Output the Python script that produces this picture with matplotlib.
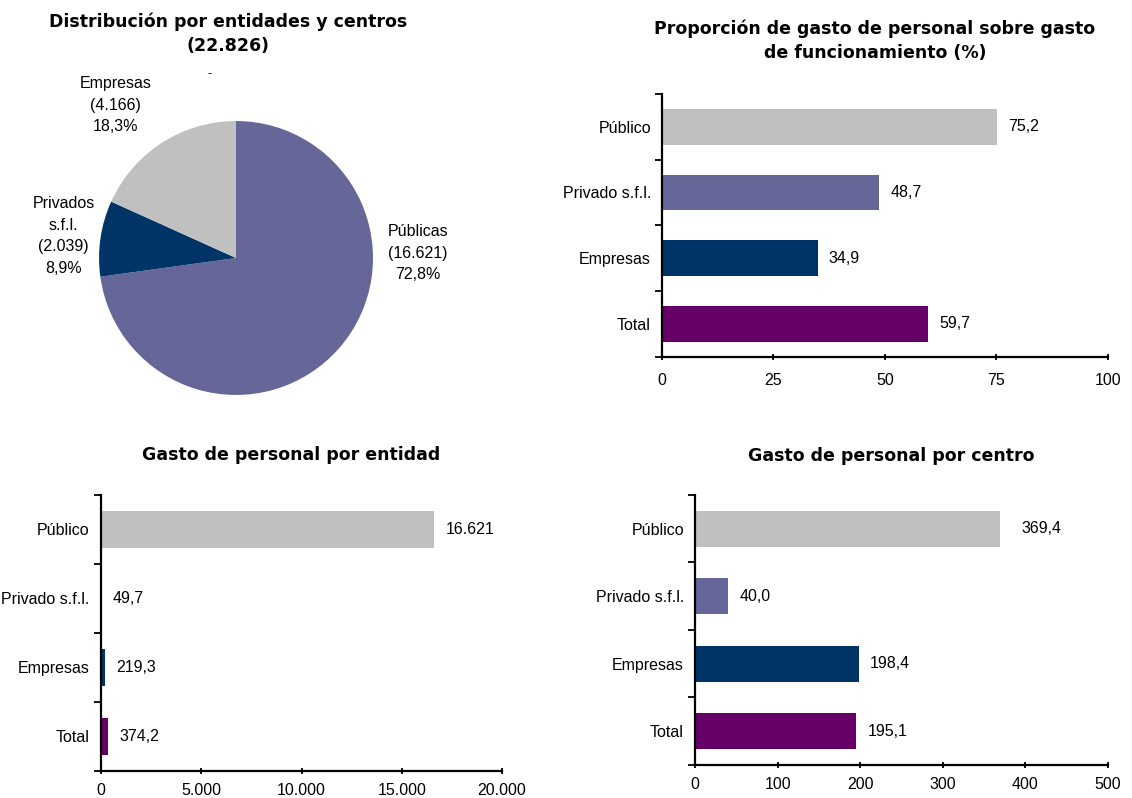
# -*- coding: utf-8 -*-
import matplotlib
matplotlib.use("Agg")

import matplotlib.pyplot as plt
from matplotlib.ticker import FuncFormatter, FixedLocator

plt.rcParams['font.family'] = ['Liberation Sans', 'DejaVu Sans']
plt.rcParams['font.size'] = 11.5

# Distribución por entidades (tarta)
pie_nombres = ["Públicas", "Privados\ns.f.l.", "Empresas"]
pie_valores = [16621, 2039, 4166]
pie_colores = ["#666699", "#003366", "#C0C0C0"]

# Barras: mismas categorías en los tres gráficos
categorias = ["Público", "Privado s.f.l.", "Empresas", "Total"]
colores = ["#C0C0C0", "#666699", "#003366", "#660066"]

proporcion_gasto = [75.2, 48.7, 34.9, 59.7]
gasto_entidad = [16621, 49.7, 219.3, 374.2]
gasto_centro = [369.4, 40.0, 198.4, 195.1]

ticks_proporcion = [0, 25, 50, 75, 100]
ticks_entidad = [0, 5000, 10000, 15000, 20000]
ticks_centro = [0, 100, 200, 300, 400, 500]

# títulos en negrita más ancha
TITULO = dict(family=['DejaVu Sans'], fontsize=12.5, fontweight="bold",
              ha="center", va="center", linespacing=1.45)


def miles(v):
    return f"{int(round(v)):,}".replace(",", ".")


def etiqueta(v):
    # enteros grandes con punto de miles, el resto con una decimal y coma
    if v >= 1000:
        return miles(v)
    return f"{v:.1f}".replace(".", ",")


def barras(ax, valores, ticks, xpad=6, desplaz=(8, 8, 8, 8)):
    n = len(categorias)
    pos = list(range(n))
    ax.barh(pos, valores, height=0.54, color=colores, edgecolor="none")
    ax.set_ylim(n - 0.5, -0.5)
    ax.set_xlim(ticks[0], ticks[-1])
    ax.set_yticks(pos)
    ax.set_yticklabels(categorias)
    ax.yaxis.set_minor_locator(FixedLocator([p - 0.5 for p in range(n + 1)]))
    ax.tick_params(axis="y", which="major", length=0, pad=8)
    ax.tick_params(axis="y", which="minor", length=5, width=1.3, direction="out")
    ax.set_xticks(ticks)
    ax.xaxis.set_major_formatter(FuncFormatter(lambda v, p: miles(v)))
    ax.tick_params(axis="x", length=5, width=1.3, direction="inout", pad=xpad)
    for s in ["top", "right"]:
        ax.spines[s].set_visible(False)
    for s in ["left", "bottom"]:
        ax.spines[s].set_linewidth(1.6)
    for p, v, d in zip(pos, valores, desplaz):
        ax.annotate(etiqueta(v), (v, p), xytext=(d, 0), textcoords="offset points",
                    va="center", ha="left")


fig = plt.figure(figsize=(11.32, 7.98), dpi=100)

# tarta
ax0 = fig.add_axes([0.0875, 0.505, 0.242, 0.3434])
ax0.pie(pie_valores, colors=pie_colores, startangle=90, counterclock=False,
        radius=1, wedgeprops=dict(linewidth=0))
ax0.set_xlim(-1, 1)
ax0.set_ylim(-1, 1)
ax0.set_aspect("equal")
total = sum(pie_valores)
pos_etiquetas = [(1.33, 0.035), (-1.26, 0.16), (-0.88, 1.115)]
for nombre, v, (x, y) in zip(pie_nombres, pie_valores, pos_etiquetas):
    pct = f"{100 * v / total:.1f}".replace(".", ",")
    ax0.text(x, y, f"{nombre}\n({miles(v)})\n{pct}%", ha="center", va="center",
             linespacing=1.55, clip_on=False)
ax0.text(-0.19, 1.34, "-", ha="center", va="center", fontsize=9, clip_on=False)
fig.text(0.2015, 0.958, f"Distribución por entidades y centros\n({miles(total)})", **TITULO)

ax1 = fig.add_axes([0.5848, 0.5531, 0.394, 0.3291])
barras(ax1, proporcion_gasto, ticks_proporcion, xpad=9)
fig.text(0.773, 0.949, "Proporción de gasto de personal sobre gasto\nde funcionamiento (%)",
         **TITULO)

ax2 = fig.add_axes([0.0892, 0.0339, 0.3543, 0.3458])
barras(ax2, gasto_entidad, ticks_entidad, xpad=6)
fig.text(0.257, 0.43, "Gasto de personal por entidad", **TITULO)

ax3 = fig.add_axes([0.614, 0.0414, 0.3648, 0.3383])
barras(ax3, gasto_centro, ticks_centro, xpad=6, desplaz=(15, 8, 8, 8))
fig.text(0.787, 0.428, "Gasto de personal por centro", **TITULO)

plt.savefig("out.png", dpi=100)
